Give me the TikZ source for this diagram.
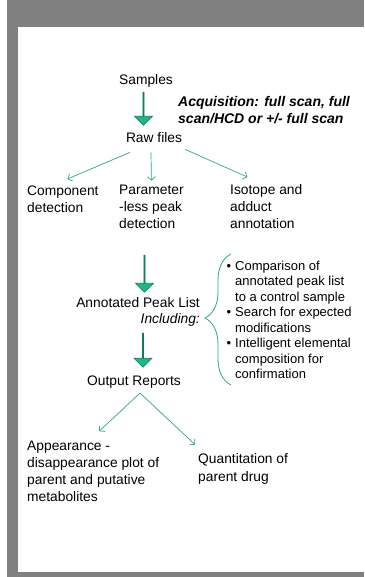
\documentclass[tikz,border=0pt]{standalone}
\usepackage{fontspec}
\setmainfont{Liberation Sans}
\usetikzlibrary{shapes.arrows,arrows.meta,calc,decorations.pathreplacing}
\definecolor{framegray}{HTML}{808080}
\definecolor{thingreen}{HTML}{2BA886}
\definecolor{blkgreen}{HTML}{1AB887}
\definecolor{blkdark}{HTML}{0C7E5A}
\begin{document}
\begin{tikzpicture}[x=1pt,y=-1pt,
  txt/.style={inner sep=0pt, font=\fontsize{13.8}{16.5}\selectfont, align=left},
  blist/.style={inner sep=0pt, font=\fontsize{13}{15.5}\selectfont, align=left},
  barrow/.style={single arrow, draw=blkdark, fill=blkgreen, line width=0.6pt, rotate=-90,
    minimum width=18pt, single arrow head extend=5pt, single arrow tip angle=90, inner sep=0pt},
  thinarrow/.style={draw=thingreen, line width=0.7pt, -{Straight Barb[length=3.5pt,width=8pt]}},
  bracestyle/.style={draw=thingreen, line width=0.8pt, decorate,
    decoration={brace, amplitude=26pt, aspect=0.511}}]
\useasboundingbox (0,0) rectangle (364,577);
\fill[framegray] (7,0) rectangle (364,577);
\fill[white] (18,27) rectangle (364,572);

\node[txt, anchor=base] (samples) at (146,85) {Samples};
\node[barrow, minimum height=33pt] (a1) at (143.5,108.5) {};
\node[txt, anchor=base west, font=\fontsize{14}{17}\selectfont\bfseries\itshape] (acq) at (178,124)
  {Acquisition: full scan, full\\scan/HCD or +/- full scan};
\node[txt, anchor=base] (raw) at (154,143) {Raw files};

\node[txt, anchor=base west] (comp) at (27,212) {Component\\detection};
\node[txt, anchor=base west] (param) at (119,228) {Parameter\\-less peak\\detection};
\node[txt, anchor=base west] (iso) at (230,228) {Isotope and\\adduct\\annotation};

\draw[thinarrow] ($(raw.south)+(-24,9)$) -- ($(comp.north)+(4.6,-6.7)$);
\draw[thinarrow] ($(raw.south)+(-3,9)$) -- ($(param.north)+(0,-4.7)$);
\draw[thinarrow] ($(raw.south)+(31,6)$) -- ($(iso.north)+(-18.8,-7.7)$);

\node[barrow, minimum height=37pt] (a2) at (144.5,273.5) {};
\node[txt, anchor=base east] (apl) at (200,307) {Annotated Peak List};
\node[txt, anchor=base east, font=\fontsize{13.8}{16.5}\selectfont\itshape] (incl) at (200,323) {Including:};

\coordinate (bt) at (231,254);
\coordinate (bb) at (231,385);
\draw[bracestyle] (bb) -- (bt);

\node[blist, anchor=base west] (bl) at (235,378.5)
  {\llap{\textbullet\hspace{4pt}}Comparison of\\annotated peak list\\to a control sample\\
   \llap{\textbullet\hspace{4pt}}Search for expected\\modifications\\
   \llap{\textbullet\hspace{4pt}}Intelligent elemental\\composition for\\confirmation};

\node[barrow, minimum height=34pt] (a3) at (143,350) {};
\node[txt, anchor=base] (out) at (134,385) {Output Reports};

\node[txt, anchor=base west, font=\fontsize{13.8}{16.7}\selectfont] (app) at (27,501)
  {Appearance -\\disappearance plot of\\parent and putative\\metabolites};
\node[txt, anchor=base west, font=\fontsize{13.8}{17.5}\selectfont] (quant) at (198,481)
  {Quantitation of\\parent drug};

\draw[thinarrow] ($(out.south)+(6,5)$) -- ($(app.north)+(6,-10)$);
\draw[thinarrow] ($(out.south)+(6,5)$) -- ($(quant.north west)+(-3,-8.7)$);
\end{tikzpicture}
\end{document}
